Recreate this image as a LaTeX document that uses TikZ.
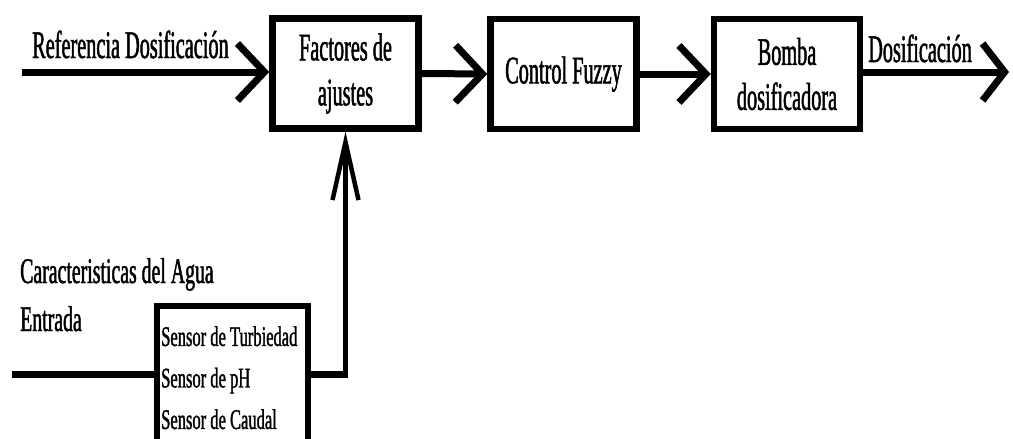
\documentclass[tikz,border=0pt]{standalone}
\usepackage{fontspec}
\setmainfont{Liberation Serif}[FakeStretch=0.52,FakeBold=1.2]
\newfontfamily\sensfont{Liberation Serif}[FakeStretch=0.58,FakeBold=1.2]
\newfontfamily\carfont{Liberation Serif}[FakeStretch=0.55,FakeBold=1.2]
\usetikzlibrary{arrows.meta}
\begin{document}
\begin{tikzpicture}[x=1pt,y=-1pt,
  box/.style={draw, line width=6.5pt, minimum width=146pt, minimum height=110pt,
    inner sep=0pt, align=center, font=\fontsize{39}{45}\selectfont},
  sensbox/.style={draw, line width=6pt, minimum width=151pt, minimum height=136pt, inner sep=0pt},
  lbl/.style={inner sep=0pt, font=\fontsize{39}{45}\selectfont},
  con/.style={line width=7pt, -{Straight Barb[length=27pt,width=57pt]}},
  outcon/.style={line width=7pt, -{Straight Barb[length=22pt,width=57pt]}},
  vcon/.style={line width=4.5pt, -{Straight Barb[length=58pt,width=26pt]}},
  thick line/.style={line width=7pt}]
\useasboundingbox (0,0) rectangle (1013,439);
\clip (0,0) rectangle (1013,439);
\fill[white] (0,0) rectangle (1013,439);

\node[box] (fact) at (345.5,73.5) {Factores de\\ajustes};
\node[box] (ctrl) at (563.5,74) {Control Fuzzy};
\node[box] (bomba) at (787,74) {Bomba\\dosificadora};
\node[sensbox] (sens) at (232.5,374) {};
\node[inner sep=0pt, anchor=north west, align=left,
      font=\sensfont\fontsize{28.5}{41.5}\selectfont] (senstxt) at (161,326)
      {Sensor de Turbiedad\\Sensor de pH\\Sensor de Caudal};

\node[lbl, anchor=base west] (ref) at (32,58) {Referencia Dosificación};
\node[lbl, anchor=base west] (dos) at (868,62) {Dosificación};
\node[lbl, anchor=base west, font=\carfont\fontsize{36}{44}\selectfont] (car) at (20,283) {Caracteristicas del Agua};
\node[lbl, anchor=base west, font=\carfont\fontsize{36}{44}\selectfont] (ent) at (20,331) {Entrada};

\coordinate (in1) at (22,72);
\coordinate (out) at (1009,72);
\coordinate (in2) at (12,374);

\draw[con] (in1) -- (in1 -| fact.west);
\draw[con] (fact.east) -- (ctrl.west);
\draw[con] (ctrl.east) -- (bomba.west);
\draw[outcon] (bomba.east |- out) -- (out);

\draw[thick line] (in2) -- (sens.west);
\coordinate (corner) at (sens.east -| fact.south);
\draw[thick line] (sens.east) -- ([xshift=2.25pt]corner);
\draw[vcon] ([yshift=-3.5pt]corner) -- (fact.south);
\end{tikzpicture}
\end{document}
